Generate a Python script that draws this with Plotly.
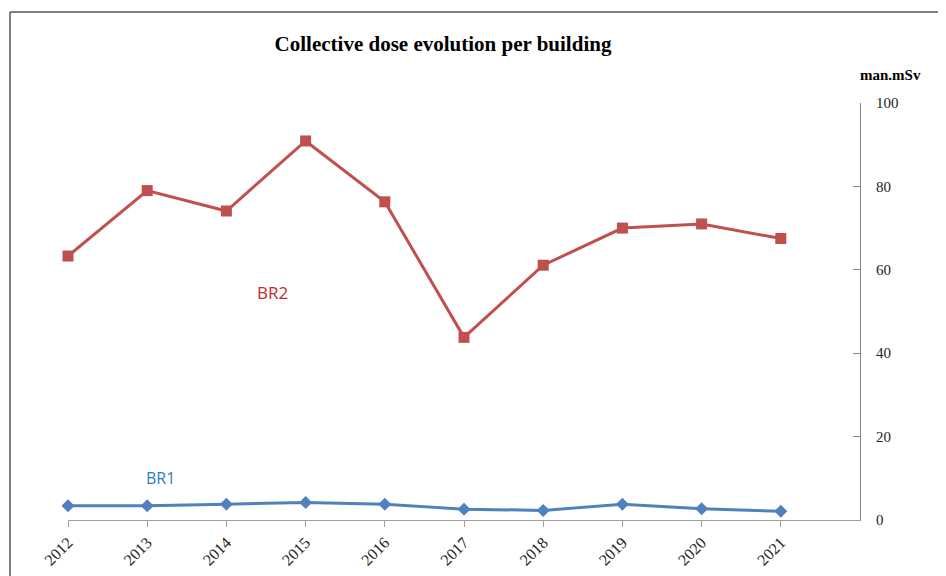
import plotly.graph_objects as go

years = [2012, 2013, 2014, 2015, 2016, 2017, 2018, 2019, 2020, 2021]
br2 = [63.3, 79.0, 74.1, 90.9, 76.3, 43.8, 61.1, 70.0, 71.0, 67.5]
br1 = [3.4, 3.4, 3.8, 4.2, 3.8, 2.6, 2.3, 3.8, 2.7, 2.1]
yticks = [0, 20, 40, 60, 80, 100]

serif = "Liberation Serif, Times New Roman, serif"
sans = "Open Sans, Liberation Sans, sans-serif"

# page has an 8px body margin; figure drawn at that offset
OFF = 8
W, H = 946 - OFF, 576 - OFF
ml, mt = 68 - OFF, 103 - OFF
mr = W - (860 - OFF)
mb = H - (520 - OFF)
pw = W - ml - mr
ph = H - mt - mb

def px(xpage):
    return (xpage - OFF - ml) / pw

def py(ypage):
    return (H - mb - (ypage - OFF)) / ph

fig = go.Figure()
fig.add_trace(go.Scatter(
    x=years, y=br2, mode="lines+markers", name="BR2",
    line=dict(color="#C0504D", width=3),
    marker=dict(symbol="square", size=11, color="#C0504D"),
    cliponaxis=False,
))
fig.add_trace(go.Scatter(
    x=years, y=br1, mode="lines+markers", name="BR1",
    line=dict(color="#4F81BD", width=3),
    marker=dict(symbol="diamond", size=10, color="#4F81BD"),
    cliponaxis=False,
))

fig.update_layout(
    width=W, height=H,
    margin=dict(l=ml, r=mr, t=mt, b=mb, pad=0),
    paper_bgcolor="white", plot_bgcolor="white",
    showlegend=False,
    title=dict(text="<b>Collective dose evolution per building</b>",
               x=px(443), xref="paper", xanchor="center",
               y=1 - (44 - OFF) / H, yanchor="middle",
               font=dict(family=serif, size=21, color="#000000")),
    xaxis=dict(
        range=[2012, 2022], tickmode="array", tickvals=years,
        ticktext=[str(y) for y in years], tickangle=-45,
        showgrid=False, zeroline=False, automargin=False,
        showline=True, linecolor="#A0A0A0", linewidth=1,
        ticks="outside", ticklen=6, tickcolor="#A0A0A0",
        tickfont=dict(family=serif, size=16, color="#222222"),
    ),
    yaxis=dict(
        range=[0, 100], side="right", tickmode="array", tickvals=yticks,
        showgrid=False, zeroline=False, automargin=False,
        showline=True, linecolor="#868686", linewidth=1,
        ticks="inside", ticklen=7, tickcolor="#868686",
        ticklabelstandoff=12,
        tickfont=dict(family=serif, size=15, color="#222222"),
    ),
    annotations=[
        dict(text="<b>man.mSv</b>", xref="paper", yref="paper",
             x=px(890), y=py(75), showarrow=False,
             xanchor="center", yanchor="middle",
             font=dict(family=serif, size=15, color="#000000")),
        dict(text="BR2", xref="paper", yref="paper",
             x=px(272), y=py(292), showarrow=False,
             xanchor="center", yanchor="middle",
             font=dict(family=sans, size=17, color="#C8282C")),
        dict(text="BR1", xref="paper", yref="paper",
             x=px(160), y=py(478), showarrow=False,
             xanchor="center", yanchor="middle",
             font=dict(family=sans, size=16, color="#2E7BC4")),
    ],
    shapes=[
        dict(type="line", xref="paper", yref="paper",
             x0=px(10), x1=px(960), y0=py(12), y1=py(12),
             line=dict(color="#555555", width=1.5)),
        dict(type="line", xref="paper", yref="paper",
             x0=px(10), x1=px(10), y0=py(12), y1=py(600),
             line=dict(color="#555555", width=1.5)),
    ],
)

fig.write_html("out.html")
